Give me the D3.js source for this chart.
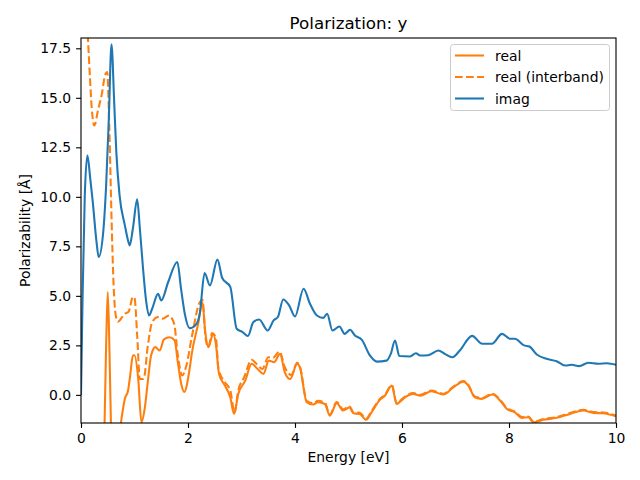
<!DOCTYPE html>
<html>
<head>
<meta charset="utf-8">
<script src="https://cdn.jsdelivr.net/npm/d3@7"></script>
<style>
  body { margin: 0; background: #fff; }
  svg { display: block; font-family: "DejaVu Sans", sans-serif; }
</style>
</head>
<body>
<svg id="chart" width="640" height="480"></svg>
<script>
// ---- data ----
const xTicks = [0, 2, 4, 6, 8, 10];
const yTicks = [0, 2.5, 5, 7.5, 10, 12.5, 15, 17.5];
const seriesNames = ["real", "real (interband)", "imag"];

const imagX = [0, 0.03, 0.07, 0.12, 0.17, 0.22, 0.29, 0.33, 0.41, 0.47, 0.52, 0.57, 0.62, 0.66, 0.72, 0.82, 0.87, 0.91, 0.97, 1.05, 1.10, 1.16, 1.22, 1.27, 1.33, 1.44, 1.50, 1.63, 1.80, 1.87, 1.94, 2.03, 2.16, 2.22, 2.31, 2.41, 2.55, 2.64, 2.79, 2.91, 3.02, 3.12, 3.22, 3.33, 3.49, 3.60, 3.68, 3.78, 3.89, 4.00, 4.16, 4.28, 4.41, 4.53, 4.60, 4.70, 4.83, 4.93, 5.03, 5.12, 5.25, 5.40, 5.53, 5.71, 5.79, 5.87, 5.95, 6.15, 6.26, 6.34, 6.49, 6.68, 6.80, 6.94, 7.08, 7.31, 7.50, 7.68, 7.87, 8.02, 8.11, 8.28, 8.38, 8.52, 8.70, 8.89, 9.05, 9.17, 9.31, 9.48, 9.67, 9.83, 10.0];
const imagY = [0.0, 5.0, 10.0, 12.1, 11.0, 9.74, 7.72, 6.96, 8.06, 10.6, 13.96, 17.7, 14.8, 12.27, 10.1, 8.56, 7.9, 7.55, 8.4, 9.88, 8.4, 6.37, 4.68, 4.01, 4.35, 5.1, 4.77, 5.7, 6.71, 5.36, 4.1, 3.37, 3.59, 4.1, 6.15, 5.53, 6.83, 5.9, 5.45, 3.34, 3.17, 2.97, 3.67, 3.81, 3.25, 3.76, 3.93, 4.82, 4.52, 3.96, 5.36, 4.6, 4.01, 3.89, 4.1, 3.25, 3.45, 3.08, 3.29, 3.0, 2.78, 1.99, 1.68, 1.73, 2.07, 2.75, 1.96, 1.94, 2.1, 1.99, 2.0, 2.24, 2.07, 1.9, 2.24, 2.98, 2.58, 2.58, 3.08, 2.83, 2.83, 2.5, 2.44, 2.04, 1.82, 1.7, 1.48, 1.52, 1.45, 1.62, 1.57, 1.6, 1.52];

const realX = [0, 0.40, 0.44, 0.47, 0.50, 0.53, 0.56, 0.60, 0.68, 0.74, 0.78, 0.82, 0.88, 0.92, 0.97, 1.00, 1.07, 1.13, 1.19, 1.25, 1.31, 1.39, 1.47, 1.55, 1.66, 1.75, 1.81, 1.88, 1.93, 2.03, 2.07, 2.19, 2.27, 2.32, 2.38, 2.47, 2.52, 2.58, 2.69, 2.79, 2.86, 2.94, 3.07, 3.19, 3.30, 3.41, 3.51, 3.61, 3.72, 3.81, 3.91, 4.04, 4.09, 4.22, 4.34, 4.43, 4.56, 4.65, 4.78, 4.90, 5.02, 5.09, 5.21, 5.33, 5.43, 5.59, 5.68, 5.81, 5.90, 5.96, 6.06, 6.21, 6.34, 6.55, 6.77, 6.96, 7.15, 7.24, 7.36, 7.49, 7.69, 7.86, 7.96, 8.11, 8.24, 8.36, 8.46, 8.64, 8.89, 9.14, 9.39, 9.58, 9.76, 10.0];
const realY = [-8, -6, -1.5, 2.5, 5.19, 2.5, -1.5, -5, -4, -1.6, -0.8, -0.2, 0.22, 1.0, 1.99, 2.0, 0.8, -1.39, -0.71, 0.7, 1.99, 2.41, 2.24, 2.8, 2.91, 2.75, 1.65, 0.47, 0.15, 1.31, 2.07, 3.59, 4.68, 3.25, 2.41, 3.08, 2.58, 1.06, 0.47, -0.12, -0.96, 0.05, 0.72, 1.57, 1.31, 1.06, 1.73, 1.65, 2.07, 1.14, 0.8, 1.57, 1.4, -0.37, -0.49, -0.37, -0.46, -1.05, -0.42, -0.79, -0.63, -0.93, -0.96, -1.26, -0.88, -0.24, -0.04, 0.47, -0.46, -0.35, -0.12, 0.05, -0.04, 0.18, 0.02, 0.38, 0.67, 0.47, -0.12, -0.2, 0.02, -0.37, -0.71, -0.88, -1.16, -1.13, -1.39, -1.26, -1.16, -0.96, -0.79, -0.91, -0.93, -1.08];

const interX = [0, 0.06, 0.13, 0.17, 0.20, 0.25, 0.32, 0.39, 0.45, 0.49, 0.53, 0.57, 0.61, 0.65, 0.69, 0.82, 0.89, 0.97, 1.00, 1.05, 1.10, 1.17, 1.25, 1.33, 1.44, 1.53, 1.64, 1.74, 1.81, 1.89, 1.97, 2.07, 2.22, 2.27, 2.33, 2.38, 2.45, 2.52, 2.57, 2.69, 2.79, 2.87, 2.94, 3.05, 3.19, 3.28, 3.39, 3.50, 3.59, 3.71, 3.81, 3.93, 4.04, 4.09, 4.22, 4.34, 4.43, 4.56, 4.65, 4.78, 4.90, 5.02, 5.09, 5.21, 5.33, 5.43, 5.59, 5.68, 5.81, 5.90, 5.96, 6.06, 6.21, 6.34, 6.55, 6.77, 6.96, 7.15, 7.24, 7.36, 7.49, 7.69, 7.86, 7.96, 8.11, 8.24, 8.36, 8.46, 8.64, 8.89, 9.14, 9.39, 9.58, 9.76, 10.0];
const interY = [26, 22, 18.0, 15.9, 14.5, 13.6, 14.4, 15.2, 16.15, 16.3, 13.4, 9.0, 5.5, 4.0, 3.7, 4.1, 4.2, 4.94, 4.9, 3.0, 0.8, 0.8, 2.5, 3.67, 3.93, 3.85, 4.0, 3.6, 2.0, 0.98, 1.48, 2.91, 4.68, 4.8, 2.83, 2.41, 3.12, 2.91, 1.31, 0.64, 0.22, -0.88, 0.22, 0.89, 1.77, 1.57, 1.31, 1.9, 1.87, 2.19, 1.4, 1.0, 1.62, 1.45, -0.3, -0.42, -0.3, -0.4, -1.0, -0.36, -0.73, -0.57, -0.87, -0.9, -1.2, -0.82, -0.2, 0.0, 0.5, -0.42, -0.31, -0.08, 0.09, 0.0, 0.22, 0.06, 0.42, 0.7, 0.5, -0.08, -0.16, 0.06, -0.33, -0.67, -0.84, -1.12, -1.09, -1.35, -1.22, -1.12, -0.92, -0.75, -0.87, -0.89, -1.04];

// ---- layout ----
const W = 640, H = 480;
const m = { left: 81, right: 616, top: 38, bottom: 423 };
const svg = d3.select("#chart");

const x = d3.scaleLinear().domain([0, 10]).range([m.left, m.right]);
const y = d3.scaleLinear().domain([-1.42, 18.02]).range([m.bottom, m.top]);

const ORANGE = "#ff7f0e", BLUE = "#1f77b4";
const LW = 2.08, DASH = "7.7,3.33";

svg.append("defs").append("clipPath").attr("id", "clip")
  .append("rect").attr("x", m.left).attr("y", m.top)
  .attr("width", m.right - m.left).attr("height", m.bottom - m.top);

const line = d3.line().x(d => x(d[0])).y(d => y(d[1])).curve(d3.curveMonotoneX);
const zip = (a, b) => a.map((v, i) => [v, b[i]]);

const plot = svg.append("g").attr("clip-path", "url(#clip)");
plot.append("path").datum(zip(realX, realY)).attr("d", line)
  .attr("fill", "none").attr("stroke", ORANGE).attr("stroke-width", LW).attr("stroke-linejoin", "round");
plot.append("path").datum(zip(interX, interY)).attr("d", line)
  .attr("fill", "none").attr("stroke", ORANGE).attr("stroke-width", LW)
  .attr("stroke-dasharray", DASH);
plot.append("path").datum(zip(imagX, imagY)).attr("d", line)
  .attr("fill", "none").attr("stroke", BLUE).attr("stroke-width", LW).attr("stroke-linejoin", "round");

// axes
const fs = 13.9;
const xAxis = svg.append("g").attr("transform", `translate(0,${m.bottom})`)
  .call(d3.axisBottom(x).tickValues(xTicks).tickFormat(d3.format("d")).tickSizeOuter(0).tickSize(4.9).tickPadding(4.9));
const yAxis = svg.append("g").attr("transform", `translate(${m.left},0)`)
  .call(d3.axisLeft(y).tickValues(yTicks).tickFormat(d3.format(".1f")).tickSizeOuter(0).tickSize(4.9).tickPadding(4.9));
[xAxis, yAxis].forEach(g => {
  g.select(".domain").remove();
  g.selectAll(".tick line").attr("stroke", "#000").attr("stroke-width", 1.11);
  g.selectAll(".tick text").attr("fill", "#000").style("font-size", fs + "px")
    .style("font-family", "DejaVu Sans, sans-serif");
});

// frame
svg.append("rect").attr("x", m.left).attr("y", m.top)
  .attr("width", m.right - m.left).attr("height", m.bottom - m.top)
  .attr("fill", "none").attr("stroke", "#000").attr("stroke-width", 1.11);

// labels
svg.append("text").attr("x", (m.left + m.right) / 2).attr("y", 29)
  .attr("text-anchor", "middle").style("font-size", "16.7px").text("Polarization: y");
svg.append("text").attr("x", (m.left + m.right) / 2).attr("y", 462)
  .attr("text-anchor", "middle").style("font-size", fs + "px").text("Energy [eV]");
svg.append("text").attr("transform", `translate(30,${(m.top + m.bottom) / 2}) rotate(-90)`)
  .attr("text-anchor", "middle").style("font-size", fs + "px").text("Polarizability [Å]");

// legend
const lg = svg.append("g");
lg.append("rect").attr("x", 450.5).attr("y", 44.5).attr("width", 159).attr("height", 66)
  .attr("rx", 3).attr("fill", "#fff").attr("fill-opacity", 0.8)
  .attr("stroke", "#cccccc").attr("stroke-width", 1);
const items = [
  { name: seriesNames[0], color: ORANGE, dash: null },
  { name: seriesNames[1], color: ORANGE, dash: DASH },
  { name: seriesNames[2], color: BLUE, dash: null }
];
items.forEach((it, i) => {
  const yy = 55.5 + i * 21.5;
  lg.append("line").attr("x1", 455).attr("x2", 484).attr("y1", yy).attr("y2", yy)
    .attr("stroke", it.color).attr("stroke-width", LW)
    .attr("stroke-dasharray", it.dash);
  lg.append("text").attr("x", 495).attr("y", yy + 5).style("font-size", fs + "px").text(it.name);
});
</script>
</body>
</html>
